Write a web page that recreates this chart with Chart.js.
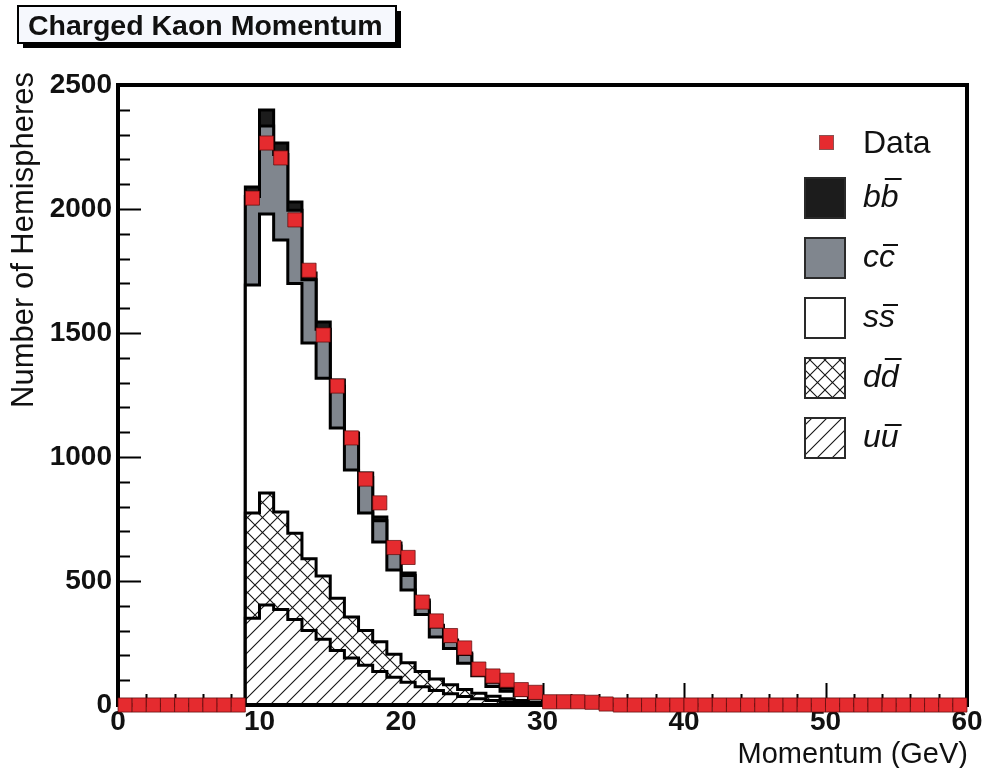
<!DOCTYPE html>
<html>
<head>
<meta charset="utf-8">
<title>Charged Kaon Momentum</title>
<script src="https://cdn.jsdelivr.net/npm/chart.js@4.4.1/dist/chart.umd.min.js"></script>
<style>
  html, body { margin: 0; padding: 0; background: #fff; }
  #wrap { position: relative; width: 1001px; height: 768px; }
</style>
</head>
<body>
<div id="wrap"><canvas id="kaon" width="1001" height="768"></canvas></div>
<script>
// Charged kaon momentum spectrum: data vs. stacked flavour MC, 1 GeV bins
const xTicks = [0, 10, 20, 30, 40, 50, 60];
const yTicks = [0, 500, 1000, 1500, 2000, 2500];

// measured hemispheres per 1 GeV bin, 0-60 GeV
const dataCounts = [
  0, 0, 0, 0, 0, 0, 0, 0, 0,
  2044, 2266, 2206, 1956, 1753, 1492, 1286, 1077, 911, 815,
  635, 595, 415, 339, 280, 230, 145, 117, 100, 62,
  51, 13, 13, 13, 11, 4,
  0, 0, 0, 0, 0, 0, 0, 0, 0, 0, 0, 0, 0, 0, 0, 0, 0, 0, 0, 0, 0, 0, 0, 0, 0
];

// simulated contributions per flavour, bins starting at 9 GeV
const mcFirstBin = 9;
const uuBar = [350, 403, 385, 345, 300, 265, 220, 190, 160, 135, 112, 92, 74, 58, 45, 34, 25, 18, 13, 9, 6, 4, 2, 1, 1, 0, 0, 0];
const ddBar = [424, 452, 393, 348, 290, 255, 210, 165, 140, 120, 93, 78, 61, 47, 37, 28, 22, 17, 12, 9, 6, 4, 3, 2, 1, 1, 0, 0];
const ssBar = [920, 1125, 1097, 1007, 870, 798, 687, 593, 474, 402, 339, 294, 230, 169, 146, 106, 71, 40, 30, 20, 15, 10, 6, 4, 2, 1, 1, 0];
const ccBar = [356, 355, 345, 295, 255, 197, 168, 129, 143, 86, 97, 58, 50, 41, 28, 36, 17, 17, 13, 10, 7, 5, 4, 2, 2, 1, 1, 1];
const bbBar = [39, 64, 46, 33, 27, 29, 25, 20, 18, 15, 12, 10, 8, 7, 6, 6, 5, 4, 3, 2, 2, 1, 1, 1, 0, 0, 0, 0];

const FONT = '"Liberation Sans", Arial, Helvetica, sans-serif';
const INK = '#111';
const RED = '#e52b2f';

// white tile with diagonal strokes, "/" only or crossed
function hatch(cross) {
  const s = 15;
  const c = document.createElement('canvas');
  c.width = c.height = s;
  const g = c.getContext('2d');
  g.fillStyle = '#fff';
  g.fillRect(0, 0, s, s);
  g.strokeStyle = '#151515';
  g.lineWidth = 1.1;
  g.beginPath();
  g.moveTo(-2, s + 2); g.lineTo(s + 2, -2);
  g.moveTo(-2, 2); g.lineTo(2, -2);
  g.moveTo(s - 2, s + 2); g.lineTo(s + 2, s - 2);
  if (cross) {
    g.moveTo(-2, -2); g.lineTo(s + 2, s + 2);
    g.moveTo(s - 2, -2); g.lineTo(s + 2, 2);
    g.moveTo(-2, s - 2); g.lineTo(2, s + 2);
  }
  g.stroke();
  return g.createPattern(c, 'repeat');
}
const crossFill = hatch(true);
const slashFill = hatch(false);

// running sums -> the stacked levels, bottom to top
function cumulate(parts) {
  const out = [];
  let run = parts[0].map(() => 0);
  parts.forEach(p => {
    run = run.map((v, i) => v + p[i]);
    out.push(run.slice());
  });
  return out;
}
const levels = cumulate([uuBar, ddBar, ssBar, ccBar, bbBar]);

// histogram outline as a closed step path
function stepPoints(values) {
  const pts = [{ x: mcFirstBin, y: 0 }];
  values.forEach((v, i) => {
    pts.push({ x: mcFirstBin + i, y: v }, { x: mcFirstBin + i + 1, y: v });
  });
  pts.push({ x: mcFirstBin + values.length, y: 0 });
  return pts;
}

function mcSet(label, values, fill) {
  return {
    label: label,
    data: stepPoints(values),
    borderColor: '#000',
    borderWidth: 3,
    borderJoinStyle: 'miter',
    backgroundColor: fill,
    fill: 'origin',
    pointRadius: 0,
    tension: 0
  };
}

// frame, inward tick marks
const frame = {
  id: 'frame',
  beforeDatasetsDraw(chart) {
    const { ctx, chartArea: a, scales } = chart;
    ctx.save();
    ctx.strokeStyle = '#000';
    ctx.lineWidth = 2;
    ctx.beginPath();
    for (let v = 0; v <= 2500; v += 100) {
      const y = Math.round(scales.y.getPixelForValue(v)) + 0.5;
      const len = v % 500 === 0 ? 23 : 12;
      ctx.moveTo(a.left, y); ctx.lineTo(a.left + len, y);
    }
    for (let v = 0; v <= 60; v += 2) {
      const x = Math.round(scales.x.getPixelForValue(v)) + 0.5;
      const len = v % 10 === 0 ? 22 : 11;
      ctx.moveTo(x, a.bottom); ctx.lineTo(x, a.bottom - len);
    }
    ctx.stroke();
    ctx.restore();
  },
  beforeDatasetDraw(chart, args) {
    if (args.index !== 0) return;
    const { ctx, chartArea: a } = chart;
    ctx.save();
    ctx.strokeStyle = '#000';
    ctx.lineWidth = 4;
    ctx.strokeRect(a.left, a.top, a.right - a.left, a.bottom - a.top);
    ctx.restore();
  }
};

// title box, axis titles and legend
const decor = {
  id: 'decor',
  afterDraw(chart) {
    const ctx = chart.ctx;
    ctx.save();

    // title pad with drop shadow
    ctx.fillStyle = '#000';
    ctx.fillRect(23, 11, 378, 37);
    ctx.fillStyle = '#f6f8fd';
    ctx.fillRect(18, 6, 378, 37);
    ctx.strokeStyle = '#000';
    ctx.lineWidth = 2;
    ctx.strokeRect(18, 6, 378, 37);
    ctx.fillStyle = INK;
    ctx.font = 'bold 28.5px ' + FONT;
    ctx.textAlign = 'left';
    ctx.textBaseline = 'alphabetic';
    ctx.fillText('Charged Kaon Momentum', 28, 35);

    // axis titles
    ctx.font = '29px ' + FONT;
    ctx.textAlign = 'right';
    ctx.fillText('Momentum (GeV)', 968, 763);
    ctx.save();
    ctx.translate(33, 240);
    ctx.rotate(-Math.PI / 2);
    ctx.textAlign = 'center';
    ctx.font = '31px ' + FONT;
    ctx.fillText('Number of Hemispheres', 0, 0);
    ctx.restore();

    // legend
    ctx.textAlign = 'left';
    ctx.fillStyle = RED;
    ctx.fillRect(820, 136, 13, 13);
    ctx.strokeStyle = 'rgba(90,10,10,0.7)';
    ctx.lineWidth = 1;
    ctx.strokeRect(819.5, 135.5, 14, 14);
    ctx.fillStyle = INK;
    ctx.font = '32px ' + FONT;
    ctx.fillText('Data', 863, 153);

    const rows = [
      { q: 'b', fill: '#1c1c1c', tall: true },
      { q: 'c', fill: '#80868e', tall: false },
      { q: 's', fill: '#ffffff', tall: false },
      { q: 'd', fill: crossFill, tall: true },
      { q: 'u', fill: slashFill, tall: false }
    ];
    rows.forEach((r, i) => {
      const top = 178 + 60 * i;
      ctx.fillStyle = r.fill;
      ctx.fillRect(805, top, 40, 40);
      ctx.strokeStyle = '#2a2a2a';
      ctx.lineWidth = 2;
      ctx.strokeRect(805, top, 40, 40);

      ctx.fillStyle = INK;
      ctx.font = 'italic 32px ' + FONT;
      const base = top + 29;
      const w = ctx.measureText(r.q).width;
      ctx.fillText(r.q, 863, base);
      ctx.fillText(r.q, 863 + w, base);
      const oy = r.tall ? top + 1 : top + 7;
      ctx.strokeStyle = INK;
      ctx.lineWidth = 2;
      ctx.beginPath();
      ctx.moveTo(863 + w + 4, oy);
      ctx.lineTo(863 + 2 * w + 3, oy);
      ctx.stroke();
    });

    ctx.restore();
  }
};

const tickFont = { family: FONT, size: 28, weight: 'bold' };

new Chart(document.getElementById('kaon'), {
  type: 'line',
  data: {
    datasets: [
      {
        label: 'Data',
        data: dataCounts.map((v, i) => ({ x: i + 0.5, y: v })),
        showLine: false,
        pointStyle: 'rect',
        pointRadius: 10,
        pointBackgroundColor: RED,
        pointBorderColor: 'rgba(90,10,10,0.7)',
        pointBorderWidth: 1,
        clip: false
      },
      mcSet('u\u016b', levels[0], slashFill),
      mcSet('dd', levels[1], crossFill),
      mcSet('ss', levels[2], '#ffffff'),
      mcSet('cc', levels[3], '#80868e'),
      mcSet('bb', levels[4], '#1c1c1c')
    ]
  },
  options: {
    responsive: false,
    animation: false,
    devicePixelRatio: 1,
    layout: { padding: { top: 85, right: 34, left: 0, bottom: 0 } },
    plugins: { legend: { display: false }, tooltip: { enabled: false } },
    scales: {
      x: {
        type: 'linear',
        min: xTicks[0],
        max: xTicks[xTicks.length - 1],
        afterBuildTicks: s => { s.ticks = xTicks.map(v => ({ value: v })); },
        afterFit: s => { s.height = 63; },
        grid: { display: false, drawTicks: false },
        border: { display: false },
        ticks: { font: tickFont, color: INK, padding: 0, maxRotation: 0, autoSkip: false, callback: v => String(v) }
      },
      y: {
        type: 'linear',
        min: yTicks[0],
        max: yTicks[yTicks.length - 1],
        afterBuildTicks: s => { s.ticks = yTicks.map(v => ({ value: v })); },
        afterFit: s => { s.width = 118; },
        grid: { display: false, drawTicks: false },
        border: { display: false },
        ticks: { font: tickFont, color: INK, padding: 6, callback: v => String(v) }
      }
    }
  },
  plugins: [frame, decor]
});
</script>
</body>
</html>
